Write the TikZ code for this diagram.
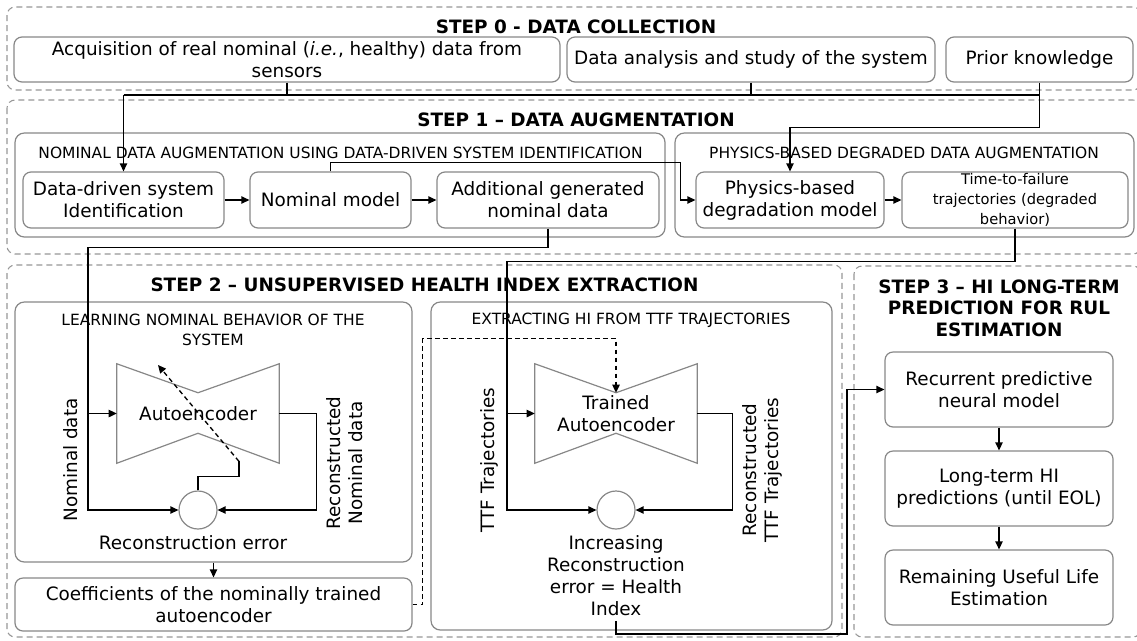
\documentclass[tikz,border=0pt]{standalone}
\usepackage{fontspec}
\setmainfont{DejaVu Sans}
\usetikzlibrary{arrows.meta,calc}
\definecolor{boxgray}{RGB}{135,135,135}
\definecolor{dashgray}{RGB}{150,150,150}
\def\pxu{0.75pt}
\newcommand{\txt}{\fontsize{13.8}{16.5}\selectfont}
\newcommand{\smalltxt}{\fontsize{11.6}{15}\selectfont}
\newcommand{\tinytxt}{\fontsize{11}{15}\selectfont}
\newcommand{\steptitle}{\bfseries\fontsize{13.8}{16}\selectfont}

\begin{document}
\begin{tikzpicture}[x=\pxu, y=-\pxu, font=\txt,
    stage/.style={draw=dashgray, dash pattern=on 4.5pt off 3pt, line width=0.8pt, rounded corners=6pt},
    group/.style={draw=boxgray, line width=0.9pt, rounded corners=7pt, inner sep=0pt},
    box/.style={draw=boxgray, line width=0.9pt, rounded corners=6pt, align=center, inner sep=0pt},
    sz/.style 2 args={minimum width=#1*\pxu, minimum height=#2*\pxu},
    bowtie/.style={draw=boxgray, line width=0.9pt},
    sum/.style={circle, draw=boxgray, line width=0.9pt, minimum size=38*\pxu, inner sep=0pt},
    wire/.style={line width=1pt},
    arr/.style={wire, -{Triangle[length=6pt,width=5.5pt]}},
    dsharr/.style={arr, dash pattern=on 3.5pt off 2.5pt}]
    \useasboundingbox (0,0) rectangle (1137,640);

    \draw[stage] (7,7) rectangle (1141,90); \draw[stage] (7,100) rectangle (1141,254);
    \draw[stage] (7,265) rectangle (842,637); \draw[stage] (854,266) rectangle (1141,637);

    \node[font=\steptitle] (t0) at (576,27) {STEP 0 - DATA COLLECTION};
    \node[font=\steptitle] (t1) at (576,120) {STEP 1 – DATA AUGMENTATION};
    \node[font=\steptitle] (t2) at (424.5,285) {STEP 2 – UNSUPERVISED HEALTH INDEX EXTRACTION};
    \node[font=\steptitle, align=center] (t3) at (999,308) {STEP 3 – HI LONG-TERM\\PREDICTION FOR RUL\\ESTIMATION};

    \node[box, sz={546}{45}] (acq) at (287,59.5) {Acquisition of real nominal (\textit{i.e.}, healthy) data from\\sensors};
    \node[box, sz={368}{45}] (ana) at (751,59.5) {Data analysis and study of the system};
    \node[box, sz={187}{45}] (pri) at (1039.5,59.5) {Prior knowledge};

    \node[group, sz={650}{104}] (nomaug) at (340,185) {}; \node[group, sz={459}{104}] (phyaug) at (904.5,185) {};
    \node[font=\smalltxt] (nomaugt) at (340.5,153) {NOMINAL DATA AUGMENTATION USING DATA-DRIVEN SYSTEM IDENTIFICATION};
    \node[font=\smalltxt] (phyaugt) at (904,153) {PHYSICS-BASED DEGRADED DATA AUGMENTATION};

    \node[box, sz={201}{56}] (ddsi) at (123.5,200) {Data-driven system\\Identification};
    \node[box, sz={161}{56}] (nmod) at (330.5,200) {Nominal model};
    \node[box, sz={222}{56}] (agnd) at (548,200) {Additional generated\\nominal data};
    \node[box, sz={188}{56}] (pbdm) at (790,200) {Physics-based\\degradation model};
    \node[box, sz={226}{56}, font=\tinytxt] (ttf) at (1015,200) {Time-to-failure\\trajectories (degraded\\behavior)};

    \node[group, sz={397}{260}] (lnb) at (213.5,432) {}; \node[group, sz={401}{328}] (ehi) at (631.5,466) {};
    \node[font=\smalltxt, align=center] (lnbt) at (213,330) {LEARNING NOMINAL BEHAVIOR OF THE\\SYSTEM};
    \node[font=\smalltxt] (ehit) at (631,320) {EXTRACTING HI FROM TTF TRAJECTORIES};
    \node[box, sz={397}{53}] (coef) at (213.5,604.5) {Coefficients of the nominally trained\\autoencoder};

    \node[sz={162}{99}, inner sep=0pt] (ae1) at (198,413.5) {Autoencoder};
    \node[sz={162}{99}, inner sep=0pt, align=center] (ae2) at (616,413.5) {Trained\\Autoencoder};
    \foreach \a in {ae1,ae2}
      \draw[bowtie] (\a.north west) -- ($(\a.north)+(0,29)$) -- (\a.north east) -- (\a.south east)
        -- ($(\a.south)+(0,-30)$) -- (\a.south west) -- cycle;
    \node[sum] (err1) at (198,510) {}; \node[sum] (err2) at (616,510) {};

    \node[rotate=90] (lin1) at (71,460) {Nominal data};
    \node[rotate=90, align=center] (lout1) at (345,463) {Reconstructed\\Nominal data};
    \node[rotate=90] (lin2) at (489,460) {TTF Trajectories};
    \node[rotate=90, align=center] (lout2) at (762,470) {Reconstructed\\TTF Trajectories};
    \node (rec) at (193,543) {Reconstruction error};
    \node[align=center] (hi) at (616,576) {Increasing\\Reconstruction\\error = Health\\Index};

    \node[box, sz={228}{75}] (rpnm) at (999,389.5) {Recurrent predictive\\neural model};
    \node[box, sz={228}{75}] (lthi) at (999,488.5) {Long-term HI\\predictions (until EOL)};
    \node[box, sz={228}{75}] (rul) at (999,587.5) {Remaining Useful Life\\Estimation};

    \coordinate (bus) at (123.5,95); \coordinate (in1) at (88,413.5); \coordinate (in2) at (507,413.5);
    \coordinate (tune) at (158,365); \coordinate (turn) at (847,634);

    \draw[wire] (acq.south) -- (acq.south |- bus) (ana.south) -- (ana.south |- bus) (bus) -- (pri.south |- bus);
    \draw[arr] (bus) -- (ddsi.north);
    \draw[arr] (pri.south) -- ++(0,45) -| (pbdm.north);
    \draw[arr] (ddsi) -- (nmod); \draw[arr] (nmod) -- (agnd); \draw[arr] (pbdm) -- (ttf);
    \draw[arr] (nmod.north) -- ++(0,-9) -| ($(pbdm.west)+(-15,0)$) -- (pbdm.west);

    \draw[arr] (agnd.south) -- ++(0,19) -| (in1 |- err1) -- (err1.west); \draw[arr] (in1) -- (ae1.west);
    \draw[arr] (ae1.east) -- ++(37,0) |- (err1.east);
    \draw[wire] (err1.north) -- ++(0,-14) -| ++(41,-15) coordinate (upd); \draw[dsharr] (upd) -- (tune);
    \draw[arr] (lnb.south) -- (coef.north);
    \draw[dsharr] (coef.east) -- ++(10,0) |- ($(ae2.north)+(0,-25)$) -- ($(ae2.north)+(0,29)$);

    \draw[arr] (ttf.south) -- ++(0,33) -| (in2 |- err2) -- (err2.west); \draw[arr] (in2) -- (ae2.west);
    \draw[arr] (ae2.east) -- ++(35,0) |- (err2.east);
    \draw[arr] (hi.south) |- (turn) |- (rpnm.west);
    \draw[arr] (rpnm) -- (lthi); \draw[arr] (lthi) -- (rul);
  \end{tikzpicture}
\end{document}
